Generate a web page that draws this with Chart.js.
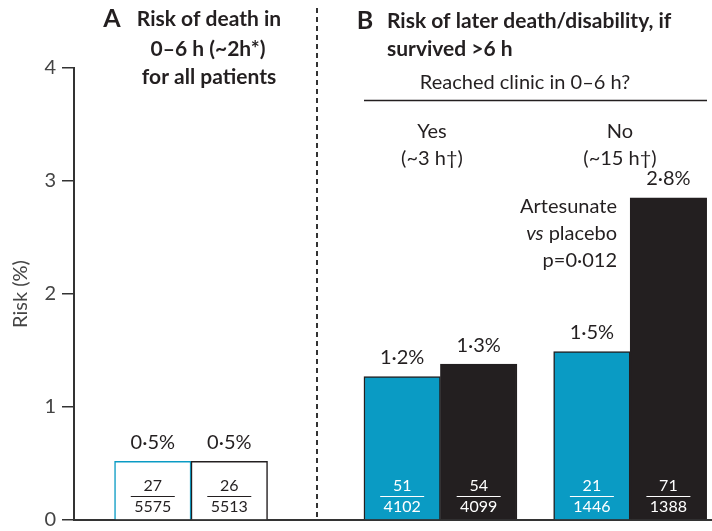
<!DOCTYPE html>
<html>
<head>
<meta charset="utf-8">
<script src="https://cdn.jsdelivr.net/npm/chart.js@4.4.1/dist/chart.umd.min.js"></script>
<style>
  html, body { margin: 0; padding: 0; background: #fff; }
  #wrap { width: 712px; height: 531px; }
</style>
</head>
<body>
<div id="wrap"><canvas id="riskChart" width="712" height="531"></canvas></div>
<script>
// values
const groups = ["A: all patients", "A: all patients", "B: reached clinic", "B: reached clinic", "B: did not reach", "B: did not reach"];
const arms = ["Artesunate", "Placebo", "Artesunate", "Placebo", "Artesunate", "Placebo"];
const riskValues = [0.52, 0.52, 1.27, 1.38, 1.49, 2.85];
const riskLabels = ["0·5%", "0·5%", "1·2%", "1·3%", "1·5%", "2·8%"];
const events = ["27", "26", "51", "54", "21", "71"];
const totals = ["5575", "5513", "4102", "4099", "1446", "1388"];
const yTicks = [0, 1, 2, 3, 4];

// layout: where each bar sits along the x axis (in bar widths)
const slots = [1.03, 2.03, 4.29, 5.29, 6.77, 7.77];

const CYAN = "#0a9bc4";
const DARK = "#231f20";
const FONT = "Lato";

const filled = [false, false, true, true, true, true];

const fills = arms.map((a, i) => !filled[i] ? "#ffffff" : (a === "Artesunate" ? CYAN : DARK));
const borders = arms.map((a, i) => !filled[i] ? (a === "Artesunate" ? CYAN : DARK) : DARK);

const annotate = {
  id: "annotate",
  afterDatasetsDraw(chart) {
    const { ctx, scales } = chart;
    const meta = chart.getDatasetMeta(0);
    const base = scales.y.bottom;
    ctx.save();
    ctx.textAlign = "center";
    ctx.textBaseline = "middle";

    meta.data.forEach((bar, i) => {
      const x = bar.x;
      ctx.fillStyle = DARK;
      ctx.font = "20px " + FONT;
      ctx.fillText(riskLabels[i], x, bar.y - 19);

      const tc = filled[i] ? "#ffffff" : DARK;
      ctx.fillStyle = tc;
      ctx.strokeStyle = tc;
      ctx.font = "16px " + FONT;
      ctx.fillText(events[i], x, base - 34);
      ctx.fillText(totals[i], x, base - 13);
      ctx.lineWidth = 1;
      ctx.beginPath();
      ctx.moveTo(x - 22, base - 23.5);
      ctx.lineTo(x + 22, base - 23.5);
      ctx.stroke();
    });

    // dashed divider between panels
    ctx.strokeStyle = "#333";
    ctx.lineWidth = 2;
    ctx.setLineDash([5, 4]);
    ctx.beginPath();
    ctx.moveTo(317, 8);
    ctx.lineTo(317, base);
    ctx.stroke();
    ctx.setLineDash([]);

    ctx.fillStyle = DARK;
    // panel A heading
    ctx.font = "bold 25px " + FONT;
    ctx.fillText("A", 112, 19);
    ctx.font = "bold 21px " + FONT;
    ctx.fillText("Risk of death in", 209, 19);
    ctx.fillText("0–6 h (~2h*)", 208, 49);
    ctx.fillText("for all patients", 209, 77);

    // panel B heading
    ctx.font = "bold 25px " + FONT;
    ctx.fillText("B", 365, 21);
    ctx.textAlign = "left";
    ctx.font = "bold 21px " + FONT;
    ctx.fillText("Risk of later death/disability, if", 387, 21);
    ctx.fillText("survived >6 h", 387, 49);

    ctx.textAlign = "center";
    ctx.font = "20px " + FONT;
    ctx.fillText("Reached clinic in 0–6 h?", 525, 83);
    ctx.lineWidth = 1.5;
    ctx.strokeStyle = DARK;
    ctx.beginPath();
    ctx.moveTo(364, 100.5);
    ctx.lineTo(707, 100.5);
    ctx.stroke();

    ctx.fillText("Yes", 432, 132);
    ctx.fillText("(~3 h†)", 432, 159);
    ctx.fillText("No", 620, 132);
    ctx.fillText("(~15 h†)", 620, 159);

    // comparison note
    ctx.textAlign = "right";
    ctx.fillText("Artesunate", 617, 207);
    ctx.fillText("p=0·012", 617, 261);
    const rest = " placebo";
    const wRest = ctx.measureText(rest).width;
    ctx.fillText(rest, 617, 234);
    ctx.font = "italic 20px " + FONT;
    ctx.fillText("vs", 617 - wRest, 234);

    ctx.restore();
  }
};

new Chart(document.getElementById("riskChart"), {
  type: "bar",
  data: {
    datasets: [{
      data: riskValues.map((v, i) => ({ x: slots[i], y: v })),
      backgroundColor: fills,
      borderColor: borders,
      borderWidth: 1.5,
      borderSkipped: "bottom",
      barPercentage: 1,
      categoryPercentage: 1
    }]
  },
  options: {
    responsive: false,
    animation: false,
    layout: { padding: { top: 68, bottom: 11, left: 0, right: 0 } },
    plugins: { legend: { display: false }, tooltip: { enabled: false } },
    scales: {
      x: {
        type: "linear",
        offset: false,
        min: 0,
        max: 8.34,
        ticks: { display: false },
        grid: { display: false, drawTicks: false, offset: false },
        border: { display: true, color: "#333", width: 2 },
        afterFit: s => {
          s.height = 0;
          s.paddingLeft = 0;
          s.paddingRight = 0;
        }
      },
      y: {
        min: 0,
        max: 4,
        afterFit: s => {
          s.width = 74;
          s.paddingTop = 0;
          s.paddingBottom = 0;
        },
        afterBuildTicks: s => { s.ticks = yTicks.map(v => ({ value: v })); },
        ticks: {
          color: "#444",
          padding: 6,
          font: { family: FONT, size: 20 }
        },
        grid: { drawOnChartArea: false, tickLength: 12, color: "#333", lineWidth: 1.5 },
        border: { display: true, color: "#333", width: 2 },
        title: {
          display: true,
          text: "Risk (%)",
          color: "#444",
          font: { family: FONT, size: 20 },
          padding: { top: 9, bottom: 0 }
        }
      }
    }
  },
  plugins: [annotate]
});
</script>
</body>
</html>
